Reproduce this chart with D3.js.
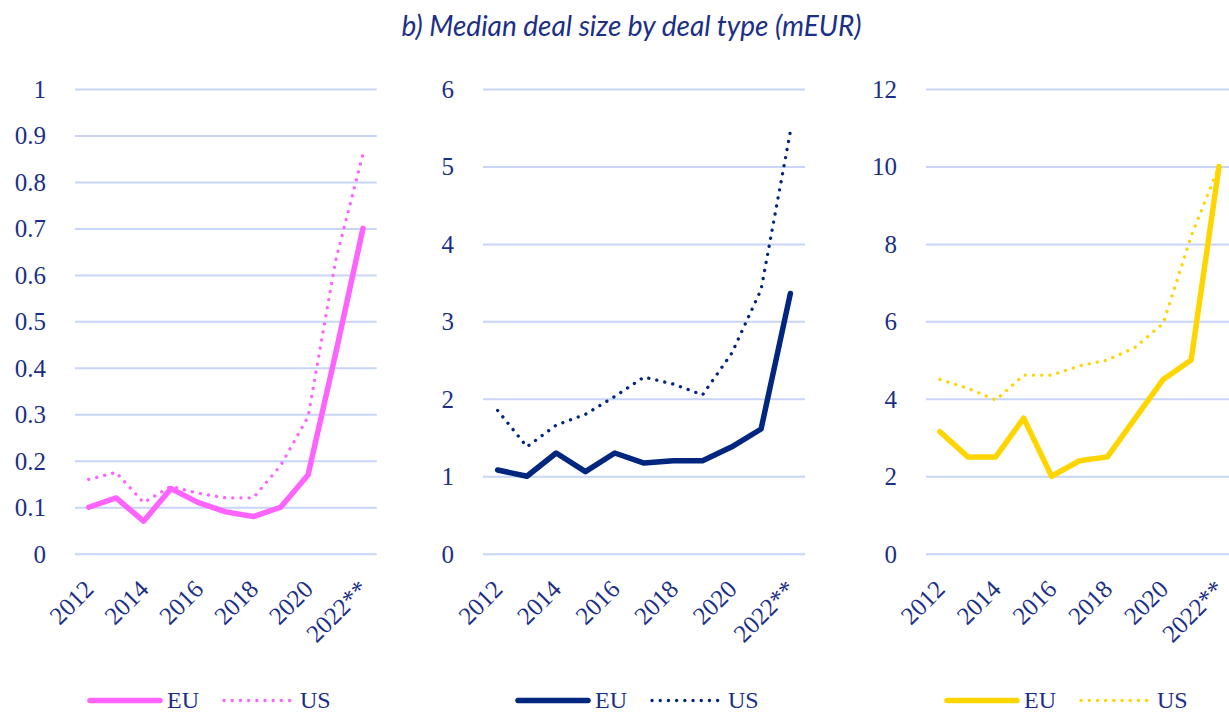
<!DOCTYPE html>
<html>
<head>
<meta charset="utf-8">
<script src="https://cdn.jsdelivr.net/npm/d3@7"></script>
<style>
  html, body { margin: 0; padding: 0; background: #ffffff; }
  svg { display: block; }
</style>
</head>
<body>
<svg id="chart" width="1229" height="713"></svg>
<script>
// ---------------- DATA ----------------
const years = ["2012","2013","2014","2015","2016","2017","2018","2019","2020","2021","2022**"];
const seriesNames = ["EU", "US"];

// Panel 1 (pink)
const p1EU = [0.10, 0.12, 0.07, 0.14, 0.11, 0.09, 0.08, 0.10, 0.17, 0.43, 0.70];
const p1US = [0.16, 0.175, 0.11, 0.145, 0.13, 0.12, 0.12, 0.19, 0.295, 0.63, 0.86];
const p1Ticks = [0, 0.1, 0.2, 0.3, 0.4, 0.5, 0.6, 0.7, 0.8, 0.9, 1];

// Panel 2 (navy)
const p2EU = [1.08, 1.00, 1.30, 1.06, 1.30, 1.17, 1.20, 1.20, 1.38, 1.61, 3.36];
const p2US = [1.85, 1.38, 1.66, 1.80, 2.03, 2.28, 2.19, 2.05, 2.59, 3.41, 5.45];
const p2Ticks = [0, 1, 2, 3, 4, 5, 6];

// Panel 3 (yellow)
const p3EU = [3.15, 2.50, 2.50, 3.50, 2.00, 2.40, 2.50, 3.50, 4.50, 5.00, 10.0];
const p3US = [4.50, 4.27, 3.97, 4.61, 4.61, 4.85, 5.00, 5.33, 5.95, 8.20, 10.0];
const p3Ticks = [0, 2, 4, 6, 8, 10, 12];

const titleText = "b) Median deal size by deal type (mEUR)";

// ---------------- LAYOUT / STYLE ----------------
const textColor = "#1c2f86";
const gridColor = "#c9d5f7";
const serifFont = "'Liberation Serif', 'DejaVu Serif', serif";
const yTop = 89, yBottom = 553.7;

const panels = [
  { eu: p1EU, us: p1US, ticks: p1Ticks, max: 1,  color: "#ff63ff", x0: 75,  x1: 376.7, legendX: 90 },
  { eu: p2EU, us: p2US, ticks: p2Ticks, max: 6,  color: "#00267f", x0: 483, x1: 805,   legendX: 518 },
  { eu: p3EU, us: p3US, ticks: p3Ticks, max: 12, color: "#ffd500", x0: 926, x1: 1233,  legendX: 947 }
];

const svg = d3.select("#chart");

svg.append("text")
  .attr("x", 631.5)
  .attr("y", 36)
  .attr("text-anchor", "middle")
  .attr("font-family", "Lato, 'Open Sans', sans-serif")
  .attr("font-style", "italic")
  .attr("font-size", 28)
  .attr("fill", textColor)
  .text(titleText);

panels.forEach(p => {
  const x = d3.scalePoint().domain(years).range([p.x0, p.x1]).padding(0.5);
  const y = d3.scaleLinear().domain([0, p.max]).range([yBottom, yTop]);
  const g = svg.append("g");

  // gridlines + y labels
  const yAxis = d3.axisLeft(y)
    .tickValues(p.ticks)
    .tickSize(-(p.x1 - p.x0))
    .tickPadding(29)
    .tickFormat(d3.format("~g"));
  const ya = g.append("g").attr("transform", `translate(${p.x0},0)`).call(yAxis);
  ya.select(".domain").remove();
  ya.selectAll(".tick line").attr("stroke", gridColor).attr("stroke-width", 2);
  ya.selectAll(".tick text")
    .attr("fill", textColor)
    .attr("font-family", serifFont)
    .attr("font-size", 25)
    .attr("dy", "0.34em");

  // x labels
  const xAxis = d3.axisBottom(x)
    .tickSize(0)
    .tickFormat((d, i) => (i % 2 === 0 ? d : ""));
  const xa = g.append("g").attr("transform", `translate(0,${yBottom})`).call(xAxis);
  xa.select(".domain").remove();
  xa.selectAll(".tick text")
    .attr("fill", textColor)
    .attr("font-family", serifFont)
    .attr("font-size", 25)
    .attr("text-anchor", "end")
    .attr("x", 0).attr("y", 0).attr("dy", 0)
    .attr("transform", "translate(6,37) rotate(-45)");

  const line = d3.line().x((d, i) => x(years[i])).y(d => y(d));

  // US dotted
  g.append("path")
    .datum(p.us)
    .attr("d", line)
    .attr("fill", "none")
    .attr("stroke", p.color)
    .attr("stroke-width", 3.3)
    .attr("stroke-linecap", "round")
    .attr("stroke-dasharray", "0.1 8.1");

  // EU solid
  g.append("path")
    .datum(p.eu)
    .attr("d", line)
    .attr("fill", "none")
    .attr("stroke", p.color)
    .attr("stroke-width", 5.5)
    .attr("stroke-linecap", "round")
    .attr("stroke-linejoin", "round");

  // legend
  const ly = 700.5;
  const lg = g.append("g");
  lg.append("line")
    .attr("x1", p.legendX).attr("x2", p.legendX + 70)
    .attr("y1", ly).attr("y2", ly)
    .attr("stroke", p.color).attr("stroke-width", 5.5).attr("stroke-linecap", "round");
  lg.append("text")
    .attr("x", p.legendX + 77).attr("y", 707.5)
    .attr("fill", textColor).attr("font-family", serifFont).attr("font-size", 24)
    .text(seriesNames[0]);
  lg.append("line")
    .attr("x1", p.legendX + 134).attr("x2", p.legendX + 203)
    .attr("y1", ly).attr("y2", ly)
    .attr("stroke", p.color).attr("stroke-width", 3.3)
    .attr("stroke-linecap", "round").attr("stroke-dasharray", "0.1 8.1");
  lg.append("text")
    .attr("x", p.legendX + 210).attr("y", 707.5)
    .attr("fill", textColor).attr("font-family", serifFont).attr("font-size", 24)
    .text(seriesNames[1]);
});
</script>
</body>
</html>
